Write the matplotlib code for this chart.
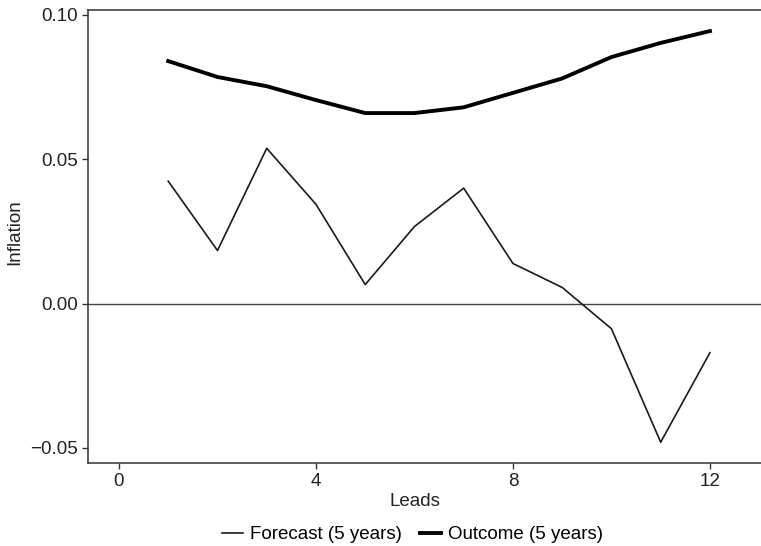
import matplotlib
matplotlib.use("Agg")
import matplotlib.pyplot as plt

leads = [1, 2, 3, 4, 5, 6, 7, 8, 9, 10, 11, 12]
forecast = [0.0424, 0.0184, 0.0538, 0.0344, 0.0066, 0.0267,
            0.0400, 0.0139, 0.0056, -0.0087, -0.0480, -0.0170]
outcome = [0.0840, 0.0785, 0.0753, 0.0705, 0.0660, 0.0660,
           0.0680, 0.0730, 0.0780, 0.0854, 0.0903, 0.0944]

plt.rcParams['font.family'] = ['Liberation Sans', 'DejaVu Sans']

fig = plt.figure(figsize=(7.61, 5.46), dpi=100)
# the panel runs on past the right edge of the picture
ax = fig.add_axes([0.1156, 0.152, 0.904, 0.8297])

ax.axhline(0, color="#444444", lw=1.0, zorder=1)
ax.plot(leads, forecast, color="#1a1a1a", lw=1.2, label="Forecast (5 years)")
ax.plot(leads, outcome, color="#000000", lw=2.8, label="Outcome (5 years)")

ax.set_xlim(-0.63, 13.34)
ax.set_ylim(-0.0552, 0.1017)
ax.set_xticks([0, 4, 8, 12])
ax.set_yticks([-0.05, 0.00, 0.05, 0.10])
ax.set_yticklabels(["\u22120.05", "0.00", "0.05", "0.10"])

for s in ax.spines.values():
    s.set_color("#333333")
    s.set_linewidth(1.1)
ax.spines["right"].set_visible(False)
ax.tick_params(direction="out", length=4, width=1, color="#333333",
               labelsize=13.5, labelcolor="#222222")

fig.text(415 / 761, 1 - 502 / 546, "Leads", ha="center", va="center",
         fontsize=13.5, color="#222222")
fig.text(15 / 761, 1 - 232 / 546, "Inflation", ha="center", va="center",
         rotation=90, fontsize=13.5, color="#222222")

fig.legend(loc="center", bbox_to_anchor=(0.542, 0.021), ncol=2,
           frameon=False, fontsize=13.5, handlelength=1.12,
           columnspacing=0.95, handletextpad=0.37)

fig.savefig("out.png", dpi=100)
